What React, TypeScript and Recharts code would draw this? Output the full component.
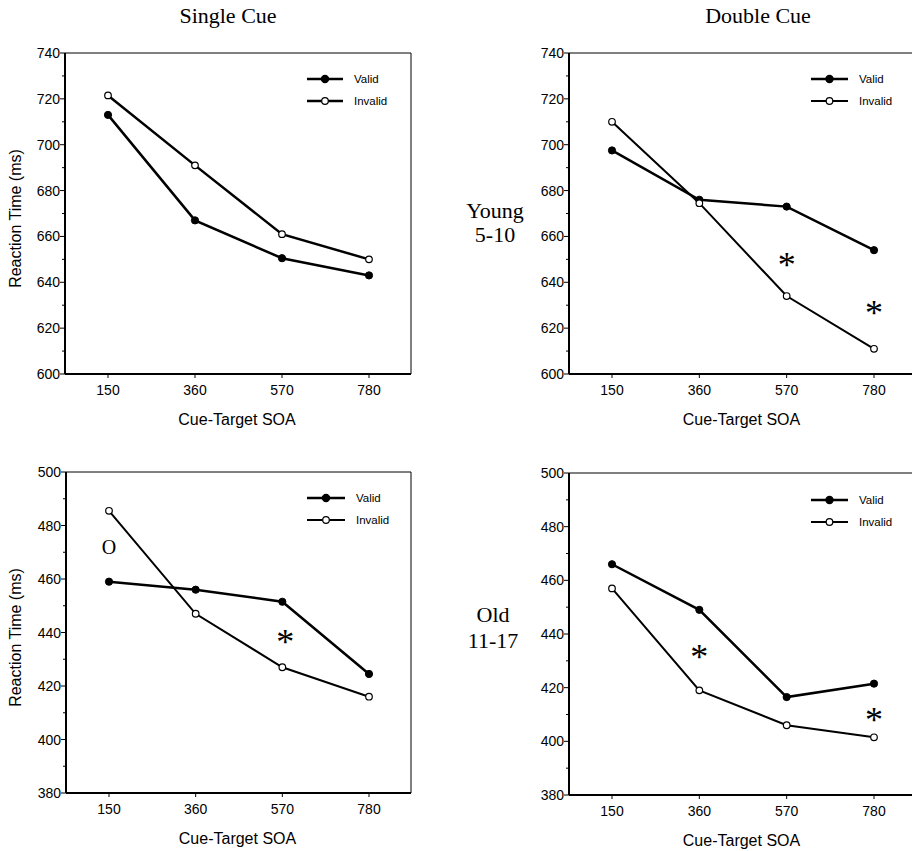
import React from 'react';
import { LineChart, Line, XAxis, YAxis, CartesianGrid, Legend, ReferenceDot } from 'recharts';

// cue-target SOA categories (ms)
const soa = ['150', '360', '570', '780'];

// young 5-10
const youngSingleValid = [713, 667, 650.5, 643];
const youngSingleInvalid = [721.5, 691, 661, 650];
const youngDoubleValid = [697.5, 676, 673, 654];
const youngDoubleInvalid = [710, 674.5, 634, 611];

// old 11-17
const oldSingleValid = [459, 456, 451.5, 424.5];
const oldSingleInvalid = [485.5, 447, 427, 416];
const oldDoubleValid = [466, 449, 416.5, 421.5];
const oldDoubleInvalid = [457, 419, 406, 401.5];

const youngTicks = [600, 610, 620, 630, 640, 650, 660, 670, 680, 690, 700, 710, 720, 730, 740];
const oldTicks = [380, 390, 400, 410, 420, 430, 440, 450, 460, 470, 480, 490, 500];

const seriesOrder = ['valid', 'invalid'];

// significance marks
type Mark = { soa: string; rt: number; sym: string; dx?: number };
const youngSingleMarks: Mark[] = [];
const youngDoubleMarks: Mark[] = [
  { soa: '570', rt: 649.7, sym: '*' },
  { soa: '780', rt: 629, sym: '*' },
];
const oldSingleMarks: Mark[] = [
  { soa: '150', rt: 472, sym: 'O' },
  { soa: '570', rt: 438.4, sym: '*', dx: 3 },
];
const oldDoubleMarks: Mark[] = [
  { soa: '360', rt: 433.4, sym: '*' },
  { soa: '780', rt: 410, sym: '*' },
];

const SANS = '"Liberation Sans", Arial, Helvetica, sans-serif';
const SERIF = '"Liberation Serif", "Times New Roman", Times, serif';

const toRows = (valid: number[], invalid: number[]) =>
  soa.map((s, i) => ({ soa: s, valid: valid[i], invalid: invalid[i] }));

function YTick(props: any) {
  const { x, y, payload } = props;
  const v = payload.value;
  const major = v % 20 === 0;
  return (
    <g>
      <line x1={x - (major ? 5 : 3)} x2={x} y1={y} y2={y} stroke="#000" strokeWidth={1} />
      {major && (
        <text x={x - 5} y={y} dy="0.36em" textAnchor="end" fontSize={14} fontFamily={SANS} fill="#000">
          {v}
        </text>
      )}
    </g>
  );
}

function Annot({ cx, cy, sym, dx = 0 }: { cx: number; cy: number; sym: string; dx?: number }) {
  if (sym === '*') {
    return (
      <text x={cx + dx} y={cy + 17} textAnchor="middle" fontSize={36} fontFamily={SERIF} fill="#000">
        *
      </text>
    );
  }
  return (
    <text x={cx + dx} y={cy + 7} textAnchor="middle" fontSize={20} fontFamily={SERIF} fill="#000">
      {sym}
    </text>
  );
}

function LegendBox({ payload, lineLen, widths }: any) {
  const names: Record<string, string> = { valid: 'Valid', invalid: 'Invalid' };
  const items = seriesOrder.map((k) => {
    const hit = (payload || []).find((p: any) => p.dataKey === k);
    return { dataKey: k, value: hit ? hit.value : names[k] };
  });
  return (
    <svg width={110} height={44} style={{ display: 'block' }}>
      {items.map((it: any, i: number) => {
        const y = 11 + i * 22;
        const open = it.dataKey === 'invalid';
        return (
          <g key={i}>
            <line x1={0} x2={lineLen} y1={y} y2={y} stroke="#000" strokeWidth={open ? widths[1] : widths[0]} />
            <circle cx={lineLen / 2} cy={y} r={open ? 3.3 : 3.6} fill={open ? '#fff' : '#000'} stroke="#000" strokeWidth={1.2} />
            <text x={lineLen + 11} y={y} dy="0.36em" fontSize={11.5} fontFamily={SANS} fill="#000">
              {it.value}
            </text>
          </g>
        );
      })}
    </svg>
  );
}

type PanelCfg = {
  left: number;
  top: number;
  width: number;
  height: number;
  plot: { x0: number; x1: number; y0: number; y1: number };
  data: { soa: string; valid: number; invalid: number }[];
  domain: [number, number];
  ticks: number[];
  marks: Mark[];
  yLabel: boolean;
  widths: [number, number];
  legend: { x: number; y: number; len: number };
};

function Panel({ cfg }: { cfg: PanelCfg }) {
  const { left, top, width, height, plot, data, domain, ticks, marks, yLabel, widths, legend } = cfg;
  const xAxisH = 60;
  const margin = {
    top: plot.y0 - top,
    right: left + width - plot.x1,
    bottom: top + height - plot.y1 - xAxisH,
    left: 0,
  };
  const midY = (plot.y0 + plot.y1) / 2;
  const midX = (plot.x0 + plot.x1) / 2;
  return (
    <div style={{ position: 'absolute', left, top, width, height }}>
      <LineChart width={width} height={height} data={data} margin={margin}>
        <CartesianGrid
          horizontalPoints={[plot.y0 - top]}
          verticalPoints={[plot.x1 - left]}
          stroke="#000"
          strokeWidth={1}
        />
        <XAxis
          dataKey="soa"
          height={xAxisH}
          interval={0}
          padding={{ left: 43, right: 42 }}
          tickSize={4}
          tickMargin={7}
          tick={{ fontSize: 14, fontFamily: SANS, fill: '#000' }}
          tickLine={{ stroke: '#000' }}
          axisLine={{ stroke: '#000', strokeWidth: 2 }}
          label={{
            content: () => (
              <text x={midX - 1 - left} y={plot.y1 + 51 - top} textAnchor="middle" fontSize={16} fontFamily={SANS} fill="#000">
                Cue-Target SOA
              </text>
            ),
          }}
        />
        <YAxis
          type="number"
          domain={domain}
          ticks={ticks}
          interval={0}
          width={plot.x0 - left}
          tickSize={0}
          tickMargin={0}
          tickLine={false}
          tick={<YTick />}
          axisLine={{ stroke: '#000', strokeWidth: 2 }}
          allowDataOverflow
          label={
            yLabel
              ? {
                  content: () => (
                    <text
                      transform={`translate(${15 - left}, ${midY + 5 - top}) rotate(-90)`}
                      textAnchor="middle"
                      dominantBaseline="central"
                      fontSize={16}
                      fontFamily={SANS}
                      fill="#000"
                    >
                      Reaction Time (ms)
                    </text>
                  ),
                }
              : undefined
          }
        />
        <Legend
          verticalAlign="middle"
          align="center"
          layout="horizontal"
          wrapperStyle={{ left: legend.x - left, top: legend.y - 11 - top, width: 110, height: 44 }}
          content={(p: any) => <LegendBox payload={p.payload} lineLen={legend.len} widths={widths} />}
        />
        <Line
          dataKey="valid"
          name="Valid"
          type="linear"
          stroke="#000"
          strokeWidth={widths[0]}
          dot={{ r: 3.6, fill: '#000', stroke: '#000', strokeWidth: 1 }}
          activeDot={false}
          isAnimationActive={false}
        />
        <Line
          dataKey="invalid"
          name="Invalid"
          type="linear"
          stroke="#000"
          strokeWidth={widths[1]}
          dot={{ r: 3.3, fill: '#fff', stroke: '#000', strokeWidth: 1.2 }}
          activeDot={false}
          isAnimationActive={false}
        />
        {marks.map((m, i) => (
          <ReferenceDot
            key={i}
            x={m.soa}
            y={m.rt}
            r={4}
            ifOverflow="visible"
            shape={(p: any) => <Annot cx={p.cx} cy={p.cy} sym={m.sym} dx={m.dx} />}
          />
        ))}
      </LineChart>
    </div>
  );
}

const panels: PanelCfg[] = [
  {
    left: 0, top: 0, width: 430, height: 440,
    plot: { x0: 65, x1: 411, y0: 53, y1: 374 },
    data: toRows(youngSingleValid, youngSingleInvalid),
    domain: [600, 740], ticks: youngTicks, marks: youngSingleMarks, yLabel: true,
    widths: [2.5, 2.5], legend: { x: 307, y: 79, len: 36 },
  },
  {
    left: 480, top: 0, width: 440, height: 440,
    plot: { x0: 569, x1: 916, y0: 53, y1: 374 },
    data: toRows(youngDoubleValid, youngDoubleInvalid),
    domain: [600, 740], ticks: youngTicks, marks: youngDoubleMarks, yLabel: false,
    widths: [2.5, 2], legend: { x: 811, y: 78.5, len: 37 },
  },
  {
    left: 0, top: 420, width: 430, height: 440,
    plot: { x0: 66, x1: 411, y0: 472, y1: 793 },
    data: toRows(oldSingleValid, oldSingleInvalid),
    domain: [380, 500], ticks: oldTicks, marks: oldSingleMarks, yLabel: true,
    widths: [2.5, 2], legend: { x: 307, y: 498, len: 38 },
  },
  {
    left: 480, top: 420, width: 440, height: 440,
    plot: { x0: 569, x1: 916, y0: 473, y1: 795 },
    data: toRows(oldDoubleValid, oldDoubleInvalid),
    domain: [380, 500], ticks: oldTicks, marks: oldDoubleMarks, yLabel: false,
    widths: [2.5, 2], legend: { x: 811, y: 500, len: 37 },
  },
];

export default function App() {
  return (
    <div style={{ position: 'absolute', left: 0, top: 0, width: 912, height: 851, overflow: 'hidden', background: '#fff' }}>
      {panels.map((p, i) => (
        <Panel key={i} cfg={p} />
      ))}
      <svg width={912} height={851} style={{ position: 'absolute', left: 0, top: 0, pointerEvents: 'none' }}>
        <g fontFamily={SERIF} fontSize={22} fill="#000" textAnchor="middle">
          <text x={228} y={23}>Single Cue</text>
          <text x={758} y={23}>Double Cue</text>
          <text x={495} y={218}>Young</text>
          <text x={495} y={242}>5-10</text>
          <text x={493} y={622}>Old</text>
          <text x={493} y={648}>11-17</text>
        </g>
      </svg>
    </div>
  );
}
